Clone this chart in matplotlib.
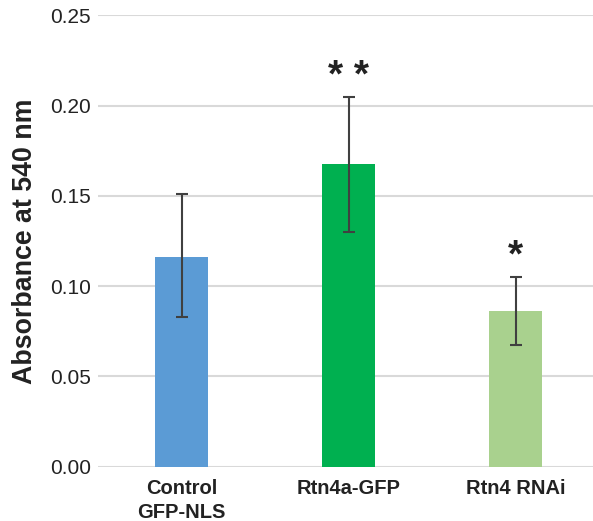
import matplotlib
matplotlib.use("Agg")
import matplotlib.pyplot as plt

plt.rcParams['font.family'] = ['Liberation Sans', 'DejaVu Sans']

groups = ["Control\nGFP-NLS", "Rtn4a-GFP", "Rtn4 RNAi"]
means = [0.1163, 0.1674, 0.0864]
err_low = [0.0830, 0.1301, 0.0674]
err_high = [0.1513, 0.2047, 0.1050]
colors = ["#5B9BD5", "#00B050", "#A9D18E"]
stars = ["", "* *", "*"]

fig = plt.figure(figsize=(5.93, 5.21), dpi=100)
ax = fig.add_axes([98 / 593, 54.3 / 521, 495 / 593, 451.7 / 521])

x = list(range(len(groups)))
yerr = [[m - lo for m, lo in zip(means, err_low)],
        [hi - m for m, hi in zip(means, err_high)]]
ax.bar(x, means, width=0.314, color=colors, zorder=2)
ax.errorbar(x, means, yerr=yerr, fmt='none', ecolor='#404040',
            elinewidth=1.5, capsize=4, capthick=1.5, zorder=3)

for xi, hi, s in zip(x, err_high, stars):
    if s:
        ax.text(xi, hi + 0.0012, s, ha='center', va='bottom',
                fontsize=28, fontweight='bold', color='#222222')

ax.set_xlim(-0.5, 2.464)
ax.set_ylim(0, 0.2502)
ax.set_yticks([0, 0.05, 0.10, 0.15, 0.20, 0.25])
ax.set_yticklabels(["0.00", "0.05", "0.10", "0.15", "0.20", "0.25"])
ax.set_xticks(x)
ax.set_xticklabels(groups, fontweight='bold', fontsize=14.5, color='#222222',
                   linespacing=1.3)
ax.tick_params(axis='y', length=0, pad=5, labelsize=15, labelcolor='#222222')
ax.tick_params(axis='x', length=0, pad=9)
ax.yaxis.grid(True, color='#D9D9D9', linewidth=1.5, zorder=0)
ax.set_axisbelow(True)
for sp in ax.spines.values():
    sp.set_visible(False)

ax.set_ylabel("Absorbance at 540 nm", fontsize=19.3, fontweight='bold',
              color='#222222', labelpad=9)

fig.savefig("out.png", dpi=100)
